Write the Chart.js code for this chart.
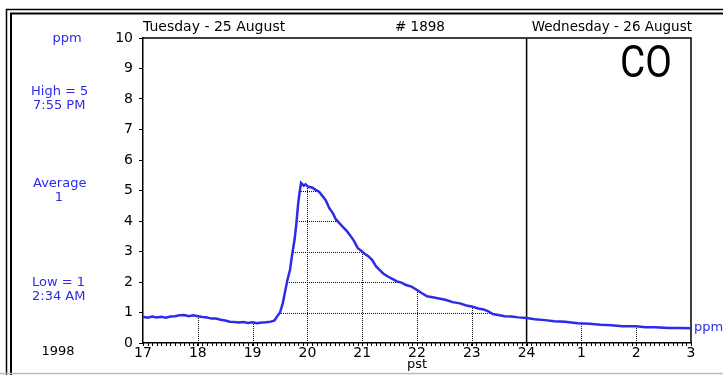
<!DOCTYPE html>
<html>
<head>
<meta charset="utf-8">
<script src="https://cdn.jsdelivr.net/npm/chart.js@4/dist/chart.umd.min.js"></script>
<style>
  html, body { margin: 0; padding: 0; background: #fff; }
  #wrap { width: 723px; height: 375px; position: relative; }
</style>
</head>
<body>
<div id="wrap"><canvas id="coChart" width="723" height="375"></canvas></div>
<script>
// time of reading, hours from 17:00 on the 25th (24 = midnight, 27 = 3 AM on the 26th)
const hours = [
  17.00, 17.08, 17.17, 17.25, 17.33, 17.42, 17.50, 17.58, 17.67, 17.75, 17.83, 17.92,
  18.00, 18.08, 18.17, 18.25, 18.33, 18.42, 18.50, 18.58, 18.67, 18.75, 18.83, 18.92,
  19.00, 19.08, 19.17, 19.25, 19.33, 19.40, 19.45, 19.50, 19.55, 19.60, 19.64, 19.68,
  19.72, 19.76, 19.80, 19.83, 19.86, 19.89, 19.93, 19.97, 20.02, 20.08, 20.15, 20.22,
  20.28, 20.34, 20.40, 20.46, 20.52, 20.58, 20.65, 20.72, 20.78, 20.85, 20.92, 20.98,
  21.05, 21.12, 21.19, 21.25, 21.31, 21.38, 21.46, 21.55, 21.63, 21.72, 21.80, 21.90,
  22.00, 22.09, 22.18, 22.28, 22.40, 22.52, 22.65, 22.78, 22.90, 23.00, 23.12, 23.22,
  23.30, 23.38, 23.48, 23.60, 23.72, 23.85, 24.00, 24.15, 24.33, 24.50, 24.70, 24.94,
  25.15, 25.35, 25.55, 25.75, 26.00, 26.16, 26.35, 26.58, 26.80, 27.00
];
// CO concentration, ppm
const coPpm = [
  0.86, 0.83, 0.87, 0.84, 0.86, 0.83, 0.87, 0.88, 0.91, 0.92, 0.88, 0.91,
  0.88, 0.85, 0.84, 0.80, 0.80, 0.76, 0.74, 0.70, 0.69, 0.67, 0.69, 0.66,
  0.68, 0.65, 0.67, 0.68, 0.70, 0.74, 0.88, 1.00, 1.30, 1.75, 2.05, 2.40,
  2.84, 3.40, 3.95, 4.60, 5.05, 5.25, 5.16, 5.20, 5.12, 5.10, 5.02, 4.95,
  4.80, 4.68, 4.42, 4.25, 4.06, 3.93, 3.80, 3.68, 3.52, 3.35, 3.12, 3.02,
  2.92, 2.84, 2.72, 2.52, 2.40, 2.28, 2.18, 2.10, 2.02, 1.98, 1.90, 1.85,
  1.74, 1.64, 1.53, 1.50, 1.46, 1.42, 1.34, 1.30, 1.23, 1.20, 1.13, 1.10,
  1.04, 0.95, 0.92, 0.88, 0.87, 0.84, 0.82, 0.78, 0.75, 0.71, 0.70, 0.65,
  0.63, 0.60, 0.58, 0.55, 0.55, 0.52, 0.52, 0.49, 0.49, 0.48
];
const hourLabels = ['17', '18', '19', '20', '21', '22', '23', '24', '1', '2', '3'];
const startHour = 17;
const midnightHour = 24;

const blue = '#2b2be8';
const font = 'DejaVu Sans';

// x is in minutes after 17:00
const points = hours.map((h, i) => ({ x: Math.round((h - startHour) * 60), y: coPpm[i] }));

const chartDecor = {
  id: 'chartDecor',
  beforeDraw(chart) {
    const c = chart.ctx;
    c.save();
    c.fillStyle = '#fff';
    c.fillRect(0, 0, chart.width, chart.height);
    // double outer frame
    c.strokeStyle = '#000';
    c.lineWidth = 1.5;
    c.beginPath();
    c.moveTo(6.5, 375); c.lineTo(6.5, 9.5); c.lineTo(723, 9.5);
    c.stroke();
    c.lineWidth = 2;
    c.beginPath();
    c.moveTo(11, 375); c.lineTo(11, 13.5); c.lineTo(723, 13.5);
    c.stroke();
    c.strokeStyle = '#bbb';
    c.lineWidth = 1.5;
    c.beginPath();
    c.moveTo(0, 373.5); c.lineTo(723, 373.5);
    c.stroke();
    c.restore();
  },
  beforeDatasetsDraw(chart) {
    const c = chart.ctx;
    const area = chart.chartArea;
    const xs = chart.scales.x;
    const ys = chart.scales.y;
    const pts = chart.getDatasetMeta(0).data;

    // dotted grid only under the curve
    c.save();
    c.beginPath();
    c.moveTo(pts[0].x, area.bottom);
    pts.forEach(p => c.lineTo(p.x, p.y));
    c.lineTo(pts[pts.length - 1].x, area.bottom);
    c.closePath();
    c.clip();
    c.strokeStyle = '#111';
    c.lineWidth = 1;
    c.setLineDash([1, 1]);
    ys.ticks.forEach(t => {
      if (t.value <= 0 || t.value >= 10) return;
      const y = Math.round(ys.getPixelForValue(t.value)) + 0.5;
      c.beginPath(); c.moveTo(area.left, y); c.lineTo(area.right, y); c.stroke();
    });
    const midnight = (midnightHour - startHour) * 60;
    xs.ticks.forEach(t => {
      if (t.value === 0 || t.value === midnight || t.value >= xs.max) return;
      const x = Math.round(xs.getPixelForValue(t.value)) + 0.5;
      c.beginPath(); c.moveTo(x, area.top); c.lineTo(x, area.bottom); c.stroke();
    });
    c.restore();

    // day separator and plot frame
    c.save();
    c.strokeStyle = '#000';
    c.lineWidth = 1.5;
    const xm = xs.getPixelForValue(midnight);
    c.beginPath();
    c.moveTo(xm, area.top); c.lineTo(xm, area.bottom);
    c.moveTo(area.left, area.top); c.lineTo(area.right, area.top); c.lineTo(area.right, area.bottom);
    c.stroke();
    c.restore();
  },
  afterDraw(chart) {
    const c = chart.ctx;
    const area = chart.chartArea;
    const xs = chart.scales.x;
    c.save();

    // 5 minute ticks under the time axis
    c.strokeStyle = '#000';
    c.lineWidth = 1;
    c.beginPath();
    for (let m = 0; m <= xs.max; m += 5) {
      const x = Math.round(xs.getPixelForValue(m)) + 0.5;
      c.moveTo(x, area.bottom); c.lineTo(x, area.bottom + 3);
    }
    c.stroke();

    c.textBaseline = 'alphabetic';
    c.fillStyle = '#000';
    c.font = '14px "' + font + '"';
    c.textAlign = 'left';
    c.fillText('Tuesday - 25 August', area.left, 31);
    c.font = '13.5px "' + font + '"';
    c.fillText('# 1898', 395, 31);
    c.textAlign = 'right';
    c.fillText('Wednesday - 26 August', area.right + 1, 31);

    c.textBaseline = 'middle';
    c.textAlign = 'center';
    c.font = '13px "' + font + '"';
    c.fillText('pst', xs.getPixelForValue(300), 365);
    c.fillText('1998', 58, 352);

    // side notes
    c.fillStyle = blue;
    c.fillText('ppm', 67, 39);
    c.fillText('1', 59, 198);
    c.textAlign = 'left';
    c.fillText('High = 5', 31, 92);
    c.fillText('7:55 PM', 33, 106);
    c.fillText('Average', 33, 184);
    c.fillText('Low = 1', 32, 283);
    c.fillText('2:34 AM', 32, 297);
    c.fillText('ppm', area.right + 3, 328);

    // big gas label
    c.fillStyle = '#000';
    c.textBaseline = 'alphabetic';
    c.font = '44px Roboto';
    c.translate(620, 77);
    c.scale(0.88, 1);
    c.fillText('CO', 0, 0);
    c.restore();
  }
};

new Chart(document.getElementById('coChart'), {
  type: 'line',
  data: {
    datasets: [{
      data: points,
      borderColor: blue,
      borderWidth: 2.5,
      pointRadius: 0,
      tension: 0,
      fill: false
    }]
  },
  options: {
    responsive: false,
    animation: false,
    layout: { padding: { left: 0, top: 38, right: 32, bottom: 0 } },
    plugins: { legend: { display: false }, tooltip: { enabled: false } },
    scales: {
      x: {
        type: 'linear',
        min: 0,
        max: (hourLabels.length - 1) * 60,
        afterFit: s => { s.height = 32; },
        border: { display: true, color: '#000', width: 1.5 },
        grid: { drawOnChartArea: false, tickLength: 3, tickColor: '#000', tickWidth: 1 },
        ticks: {
          stepSize: 60,
          autoSkip: false,
          maxRotation: 0,
          minRotation: 0,
          padding: -1,
          color: '#000',
          font: { family: font, size: 14 },
          callback: v => hourLabels[v / 60]
        }
      },
      y: {
        min: 0,
        max: 10,
        afterFit: s => { s.width = 143; },
        border: { display: true, color: '#000', width: 1.5 },
        grid: { drawOnChartArea: false, tickLength: 4, tickColor: '#000', tickWidth: 1 },
        ticks: {
          stepSize: 1,
          padding: 6,
          color: '#000',
          font: { family: font, size: 14 }
        }
      }
    }
  },
  plugins: [chartDecor]
});
</script>
</body>
</html>
